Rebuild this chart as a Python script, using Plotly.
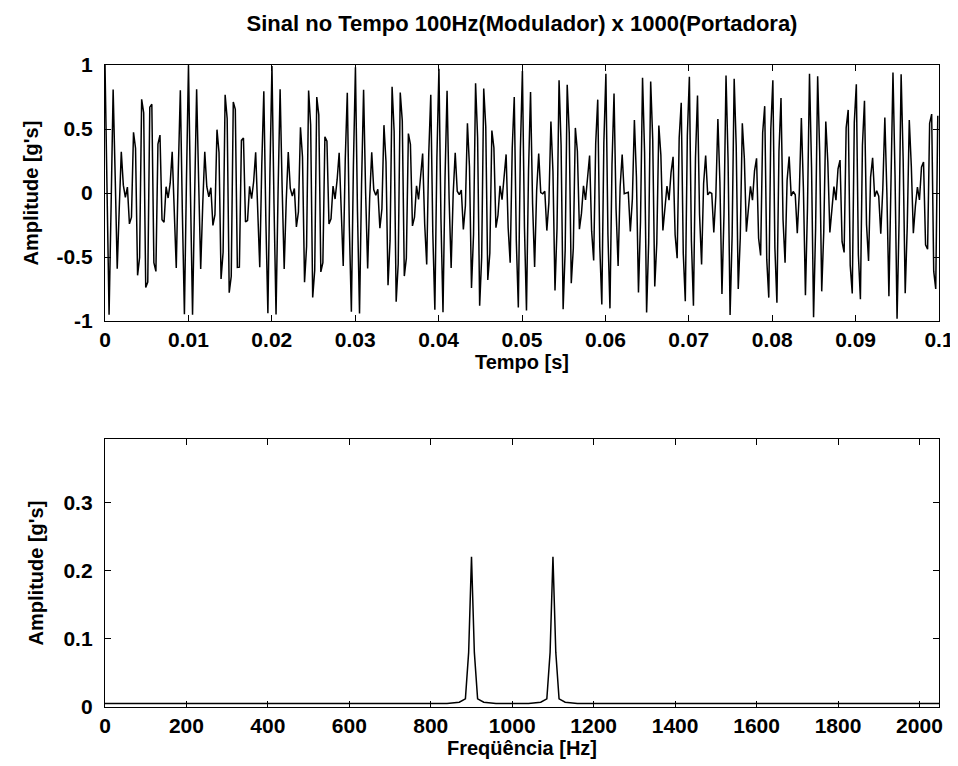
import numpy as np
import plotly.graph_objects as go
from plotly.subplots import make_subplots

modulator_hz = 100.0      # "100Hz(Modulador)"
carrier_hz = 1000.0       # "1000(Portadora)"
sample_rate_hz = 4096.0   # spectrum axis ends at fs/2 = 2048 Hz
duration_s = 0.1

# time signal (the AM product named in the title)
time_s = np.arange(0, duration_s + 1e-9, 1.0 / sample_rate_hz)
amplitude_time = np.cos(2 * np.pi * modulator_hz * time_s) * np.cos(2 * np.pi * carrier_hz * time_s)

# spectrum
freq_hz = [0, 840, 870, 885, 893, 900, 907, 915, 930, 960,
           1040, 1070, 1085, 1093, 1100, 1107, 1115, 1130, 1160, 2048]
amplitude_freq = [0.005, 0.005, 0.007, 0.012, 0.08, 0.22, 0.08, 0.012, 0.007, 0.005,
                  0.005, 0.007, 0.012, 0.08, 0.22, 0.08, 0.012, 0.007, 0.005, 0.005]

top_ticks = [0, 0.01, 0.02, 0.03, 0.04, 0.05, 0.06, 0.07, 0.08, 0.09, 0.1]
top_ticklabels = ["0", "0.01", "0.02", "0.03", "0.04", "0.05", "0.06", "0.07", "0.08", "0.09", "0.1"]
top_yticks = [-1, -0.5, 0, 0.5, 1]
top_yticklabels = ["-1", "-0.5", "0", "0.5", "1"]
bot_ticks = [0, 200, 400, 600, 800, 1000, 1200, 1400, 1600, 1800, 2000]
bot_yticks = [0, 0.1, 0.2, 0.3]
bot_yticklabels = ["0", "0.1", "0.2", "0.3"]

FONT = "Liberation Sans"
TICK_FONT = dict(family=FONT, size=21, color="black", weight="bold")
LABEL_FONT = dict(family=FONT, size=20, color="black", weight="bold")

fig = make_subplots(rows=2, cols=1, vertical_spacing=0.0)
fig.add_trace(go.Scatter(x=time_s, y=amplitude_time, mode="lines",
                         line=dict(color="black", width=1.5), showlegend=False), row=1, col=1)
fig.add_trace(go.Scatter(x=freq_hz, y=amplitude_freq, mode="lines",
                         line=dict(color="black", width=1.5), showlegend=False), row=2, col=1)

axis_common = dict(showline=True, linecolor="black", linewidth=1.4, mirror="ticks",
                   ticks="inside", ticklen=6, tickcolor="black", tickwidth=1,
                   showgrid=False, zeroline=False, tickfont=TICK_FONT)

fig.update_xaxes(**axis_common)
fig.update_yaxes(**axis_common, ticklabelstandoff=7)

fig.update_layout(
    xaxis=dict(domain=[0, 1], range=[0, 0.1], tickvals=top_ticks, ticktext=top_ticklabels,
               title=dict(text="Tempo [s]", standoff=4, font=LABEL_FONT)),
    yaxis=dict(domain=[0.6012, 1], range=[-1, 1], tickvals=top_yticks, ticktext=top_yticklabels,
               title=dict(text="Amplitude [g's]", standoff=12, font=LABEL_FONT)),
    xaxis2=dict(domain=[0, 1], range=[0, 2048], tickvals=bot_ticks,
                title=dict(text="Freqüência [Hz]", standoff=3, font=LABEL_FONT)),
    yaxis2=dict(domain=[0, 0.4174], range=[0, 0.3926], tickvals=bot_yticks, ticktext=bot_yticklabels,
                title=dict(text="Amplitude [g's]", standoff=14, font=LABEL_FONT)),
    title=dict(text="Sinal no Tempo 100Hz(Modulador) x 1000(Portadora)",
               x=0.5, xref="paper", y=1 - 15 / 766, yanchor="middle", xanchor="center",
               font=dict(family=FONT, size=22, color="black", weight="bold")),
    width=958, height=766,
    margin=dict(l=97, r=22, t=57, b=67),
    paper_bgcolor="white", plot_bgcolor="white",
)

fig.write_html("out.html")
